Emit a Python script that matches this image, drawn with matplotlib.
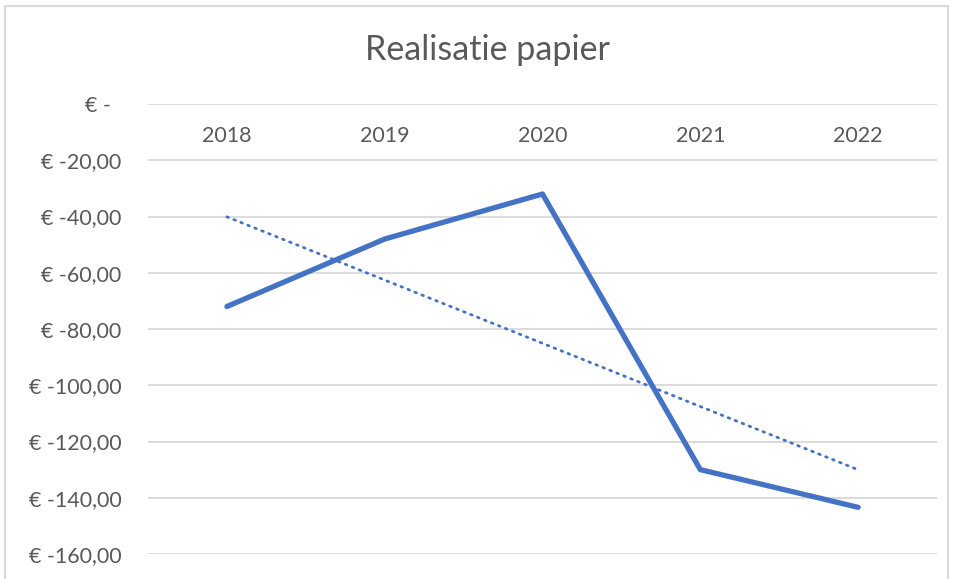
import numpy as np
from matplotlib import pyplot as plt
from matplotlib.patches import Rectangle

years = ['2018', '2019', '2020', '2021', '2022']
realisatie = [-72.0, -48.0, -32.0, -130.0, -143.4]
yticks = [0, -20, -40, -60, -80, -100, -120, -140, -160]

def euro(v):
	if v == 0:
		return '€ -  '
	return '€ ' + ('%.2f' % v).replace('.', ',')

plt.rcParams['font.family'] = ['Lato', 'DejaVu Sans']
grey = '#595959'
blue = '#4472C4'

W, H = 958, 579
fig = plt.figure(figsize=(W/100., H/100.), dpi=100)
fig.patches.append(Rectangle((5./W, -0.01), 943./W, 1 - 6./H + 0.01, transform=fig.transFigure,
	fill=False, edgecolor='#d9d9d9', linewidth=1.5))

ax = fig.add_axes([148./W, 1 - 554./H, (937-148.)/W, (554-104.)/H])
xx = np.arange(len(years))
ax.plot(xx, realisatie, color=blue, linewidth=3.8, solid_capstyle='round', solid_joinstyle='round', zorder=3)

# linear trendline
k, b = np.polyfit(xx, realisatie, 1)
ax.plot(xx, k*xx + b, color=blue, linewidth=2.0, linestyle=(0, (0.6, 2.1)), dash_capstyle='round', zorder=3)

ax.set_xlim(-0.5, len(years) - 0.5)
ax.set_ylim(-160, 0)
ax.set_yticks(yticks)
ax.set_yticklabels([euro(v) for v in yticks], fontsize=15.5, color=grey)
ax.tick_params(axis='y', length=0, pad=19)
ax.set_xticks([])
for s in ax.spines.values():
	s.set_visible(False)
for v in yticks:
	ax.axhline(v, color='#d9d9d9', linewidth=1.3, zorder=1)
for i, y in enumerate(years):
	ax.text(i, -11.3, y, ha='center', va='center', fontsize=15.5, color=grey)

fig.text(487./W, 1 - 50./H, 'Realisatie papier', ha='center', va='center', fontsize=24.5, color=grey)

fig.savefig('out.png', dpi=100)
